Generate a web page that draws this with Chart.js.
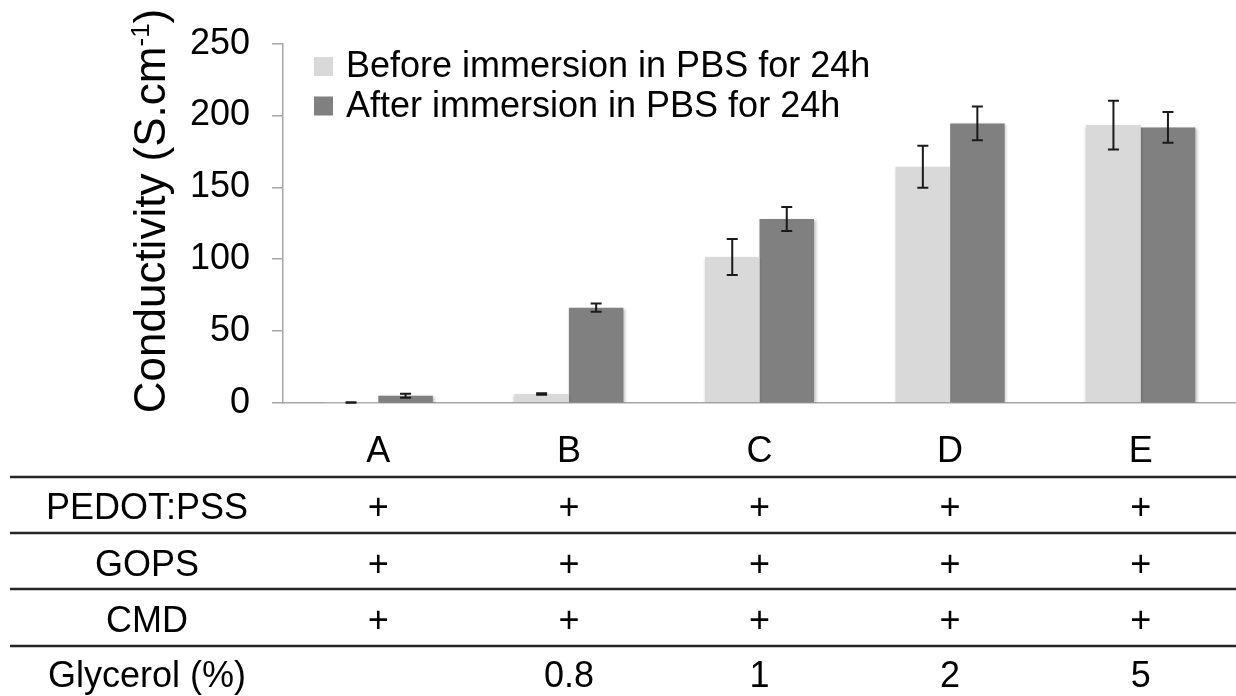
<!DOCTYPE html>
<html>
<head>
<meta charset="utf-8">
<title>Conductivity before / after PBS</title>
<script src="https://cdn.jsdelivr.net/npm/chart.js@4.4.1/dist/chart.umd.min.js"></script>
<style>
  html, body { margin: 0; padding: 0; background: #fff; }
  #chart { display: block; }
</style>
</head>
<body>
<canvas id="chart" width="1236" height="696"></canvas>
<script>
const categories = ["A", "B", "C", "D", "E"];
const beforeValues = [0.4, 6.3, 101.6, 164.4, 193.3];
const beforeErrors = [0.2, 0.5, 12.5, 14.6, 17.0];
const afterValues = [5.0, 66.3, 128.0, 194.5, 191.7];
const afterErrors = [1.4, 2.9, 8.3, 11.8, 10.7];
const yTicks = [0, 50, 100, 150, 200, 250];

const rowLabels = ["PEDOT:PSS", "GOPS", "CMD", "Glycerol (%)"];
const pedotRow = ["+", "+", "+", "+", "+"];
const gopsRow = ["+", "+", "+", "+", "+"];
const cmdRow = ["+", "+", "+", "+", "+"];
const glycerolRow = ["", "0.8", "1", "2", "5"];

const FONT = "'Liberation Sans', Arial, Helvetica, sans-serif";
const AXIS_GRAY = "#a6a6a6";

// soft drop shadow under the bars, set per dataset
const barShadow = {
  id: "barShadow",
  beforeDatasetDraw(chart, args) {
    const ctx = chart.ctx;
    ctx.save();
    ctx.shadowColor = "rgba(0, 0, 0, 0.28)";
    ctx.shadowBlur = 3;
    ctx.shadowOffsetX = args.index === 1 ? 1.5 : 0;
    ctx.shadowOffsetY = 1;
  },
  afterDatasetDraw(chart) {
    chart.ctx.restore();
  },
};

const errorBars = {
  id: "errorBars",
  afterDatasetsDraw(chart) {
    const ctx = chart.ctx;
    const y = chart.scales.y;
    ctx.save();
    ctx.strokeStyle = "#1a1a1a";
    ctx.lineWidth = 2;
    chart.data.datasets.forEach((ds, d) => {
      const meta = chart.getDatasetMeta(d);
      meta.data.forEach((bar, i) => {
        const v = ds.data[i];
        const e = ds.errors[i];
        const top = y.getPixelForValue(v + e);
        const bottom = y.getPixelForValue(v - e);
        ctx.beginPath();
        ctx.moveTo(bar.x, top);
        ctx.lineTo(bar.x, bottom);
        ctx.moveTo(bar.x - 5.5, top);
        ctx.lineTo(bar.x + 5.5, top);
        ctx.moveTo(bar.x - 5.5, bottom);
        ctx.lineTo(bar.x + 5.5, bottom);
        ctx.stroke();
      });
    });
    ctx.restore();
  },
};

const legendBox = {
  id: "legendBox",
  afterDraw(chart) {
    const ctx = chart.ctx;
    ctx.save();
    ctx.font = `36px ${FONT}`;
    ctx.textAlign = "left";
    ctx.textBaseline = "alphabetic";
    chart.data.datasets.forEach((ds, d) => {
      const rowY = 57 + d * 39.5;
      ctx.fillStyle = ds.backgroundColor;
      ctx.fillRect(314, rowY, 19, 19);
      ctx.fillStyle = "#000";
      ctx.fillText(ds.label, 346, rowY + 20);
    });
    ctx.restore();
  },
};

const yTitle = {
  id: "yTitle",
  afterDraw(chart) {
    const ctx = chart.ctx;
    const main = "Conductivity (S.cm";
    const sup = "-1";
    const close = ")";
    ctx.save();
    ctx.fillStyle = "#000";
    ctx.textBaseline = "alphabetic";
    ctx.textAlign = "left";
    ctx.font = `44px ${FONT}`;
    const wMain = ctx.measureText(main).width;
    const wClose = ctx.measureText(close).width;
    ctx.font = `26px ${FONT}`;
    const wSup = ctx.measureText(sup).width;
    const total = wMain + wSup + wClose;
    ctx.translate(165, 211);
    ctx.rotate(-Math.PI / 2);
    let x = -total / 2;
    ctx.font = `44px ${FONT}`;
    ctx.fillText(main, x, 0);
    x += wMain;
    ctx.font = `26px ${FONT}`;
    ctx.fillText(sup, x, -16);
    x += wSup;
    ctx.font = `44px ${FONT}`;
    ctx.fillText(close, x, 0);
    ctx.restore();
  },
};

const conditionTable = {
  id: "conditionTable",
  afterDraw(chart) {
    const ctx = chart.ctx;
    const xScale = chart.scales.x;
    const rows = [pedotRow, gopsRow, cmdRow, glycerolRow];
    const lineYs = [477, 533, 589, 646];
    const baselines = [519, 576, 632, 687];
    ctx.save();
    ctx.strokeStyle = "#262626";
    ctx.lineWidth = 2.6;
    lineYs.forEach((ly) => {
      ctx.beginPath();
      ctx.moveTo(10, ly);
      ctx.lineTo(1236, ly);
      ctx.stroke();
    });
    ctx.font = `36px ${FONT}`;
    ctx.fillStyle = "#000";
    ctx.textAlign = "center";
    ctx.textBaseline = "alphabetic";
    rows.forEach((row, r) => {
      ctx.fillText(rowLabels[r], 147, baselines[r]);
      row.forEach((cell, i) => {
        if (cell) ctx.fillText(cell, xScale.getPixelForValue(i), baselines[r]);
      });
    });
    ctx.restore();
  },
};

new Chart(document.getElementById("chart"), {
  type: "bar",
  data: {
    labels: categories,
    datasets: [
      {
        label: "Before immersion in PBS for 24h",
        data: beforeValues,
        errors: beforeErrors,
        backgroundColor: "#d9d9d9",
      },
      {
        label: "After immersion in PBS for 24h",
        data: afterValues,
        errors: afterErrors,
        backgroundColor: "#808080",
      },
    ],
  },
  options: {
    responsive: false,
    animation: false,
    devicePixelRatio: 1,
    datasets: {
      bar: {
        categoryPercentage: 0.572,
        barPercentage: 1.0,
        borderWidth: 0,
      },
    },
    layout: {
      padding: { left: 0, right: 0, top: 37, bottom: 223 },
    },
    plugins: {
      legend: { display: false },
      tooltip: { enabled: false },
    },
    scales: {
      x: {
        grid: { display: false, drawTicks: false },
        border: { display: true, color: AXIS_GRAY, width: 1.5 },
        ticks: {
          color: "#000",
          font: { family: FONT, size: 36 },
          padding: 27,
        },
        afterFit(scale) {
          scale.height = 70;
        },
      },
      y: {
        min: 0,
        max: 250,
        afterBuildTicks(scale) {
          scale.ticks = yTicks.map((v) => ({ value: v }));
        },
        grid: {
          drawOnChartArea: false,
          drawTicks: true,
          tickLength: 11,
          color: AXIS_GRAY,
          lineWidth: 1.5,
        },
        border: { display: true, color: AXIS_GRAY, width: 1.5 },
        ticks: {
          color: "#000",
          font: { family: FONT, size: 36 },
          padding: 22,
        },
        afterFit(scale) {
          scale.width = 283;
        },
      },
    },
  },
  plugins: [barShadow, errorBars, legendBox, yTitle, conditionTable],
});
</script>
</body>
</html>
